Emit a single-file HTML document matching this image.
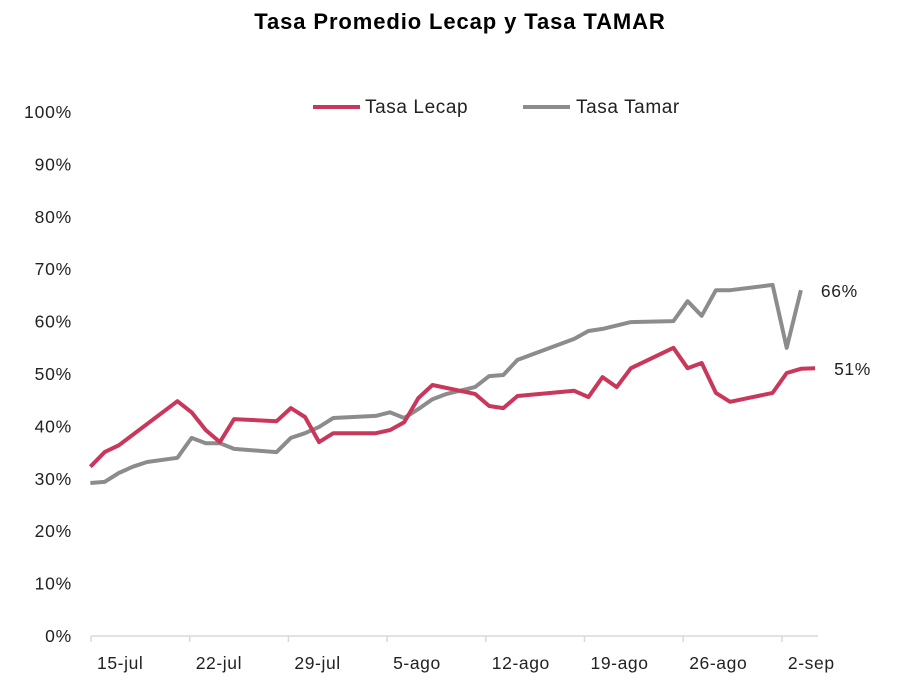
<!DOCTYPE html>
<html><head><meta charset="utf-8"><style>
html,body{margin:0;padding:0;background:#fff;}
svg{display:block;font-family:"Liberation Sans",sans-serif;}
</style></head><body>
<svg id="chart" width="915" height="694">
<text x="460" y="29" text-anchor="middle" font-size="22" font-weight="bold" letter-spacing="0.9" fill="#000">Tasa Promedio Lecap y Tasa TAMAR</text>
<g>
<g><line x1="313" y1="107" x2="360" y2="107" stroke="#c9375b" stroke-width="4"/><text x="365" y="113" font-size="19" letter-spacing="0.6" fill="#222">Tasa Lecap</text></g>
<g><line x1="523" y1="107" x2="570" y2="107" stroke="#8c8c8c" stroke-width="4"/><text x="576" y="113" font-size="19" letter-spacing="0.6" fill="#222">Tasa Tamar</text></g>
</g>
<g id="yaxis"></g>
<g id="xaxis"></g>
<g id="series"></g>
</svg>
<script>
const yTicks=[0,10,20,30,40,50,60,70,80,90,100];
const xTickLabels=["15-jul","22-jul","29-jul","5-ago","12-ago","19-ago","26-ago","2-sep"];
const lecapDays=[0,1,2,6,7,8,9,10,13,14,15,16,17,20,21,22,23,24,27,28,29,30,34,35,36,37,38,41,42,43,44,45,48,49,50,51];
const lecapValues=[32.3,35.1,36.4,44.8,42.7,39.3,37.0,41.4,41.0,43.5,41.8,37.0,38.7,38.7,39.3,40.8,45.4,47.9,46.2,43.9,43.5,45.8,46.8,45.6,49.4,47.5,51.1,55.0,51.1,52.1,46.4,44.7,46.4,50.2,51.0,51.1];
const tamarDays=[0,1,2,3,4,6,7,8,9,10,13,14,15,16,17,20,21,22,23,24,25,27,28,29,30,34,35,36,38,41,42,43,44,45,48,49,50];
const tamarValues=[29.2,29.4,31.1,32.3,33.2,34.0,37.8,36.8,36.8,35.7,35.1,37.8,38.7,39.9,41.6,42.0,42.7,41.6,43.3,45.2,46.2,47.5,49.6,49.8,52.7,56.7,58.2,58.6,59.9,60.1,63.9,61.1,66.0,66.0,67.0,55.0,66.0];
const NS="http://www.w3.org/2000/svg";
const X0=91,X1=818,Y0=636,Y100=112;
const xS=d=>X0+(d+0.1)*14.17-(d<5?2:0);
const yS=v=>Y0-(v/100)*(Y0-Y100);
function mk(t,a,p){const e=document.createElementNS(NS,t);for(const k in a)e.setAttribute(k,a[k]);p.appendChild(e);return e;}
const ya=document.getElementById('yaxis');
yTicks.forEach(v=>{const t=mk('text',{x:72,y:yS(v)+6,'text-anchor':'end','font-size':17.5,'letter-spacing':0.8,fill:'#222'},ya);t.textContent=v+'%';

});
const xa=document.getElementById('xaxis');
const ax=mk('line',{x1:X0,y1:Y0,x2:X1,y2:Y0,stroke:'#d9d9d9','stroke-width':1.5},xa);


xTickLabels.forEach((l,i)=>{const x=X0+i*98.7;
const tk=mk('line',{x1:x,y1:Y0,x2:x,y2:Y0+6,stroke:'#d9d9d9','stroke-width':1.5},xa);


const t=mk('text',{x:x+6,y:669,'font-size':17.5,'letter-spacing':0.6,fill:'#222'},xa);t.textContent=l;

});
const sg=document.getElementById('series');
function line(days,vals,col,name){const pts=days.map((d,i)=>xS(d).toFixed(1)+','+yS(vals[i]).toFixed(1)).join(' ');
const p=mk('polyline',{points:pts,fill:'none',stroke:col,'stroke-width':4,'stroke-linejoin':'round'},sg);

}
line(tamarDays,tamarValues,'#8c8c8c','tamar-line');
line(lecapDays,lecapValues,'#c9375b','lecap-line');
const lt=tamarValues[tamarValues.length-1],ll=lecapValues[lecapValues.length-1];
const t1=mk('text',{x:xS(tamarDays[tamarDays.length-1])+20,y:yS(lt)+7,'font-size':17.5,'letter-spacing':0.6,fill:'#222'},sg);t1.textContent=Math.round(lt)+'%';


const t2=mk('text',{x:xS(lecapDays[lecapDays.length-1])+19,y:yS(ll)+7,'font-size':17.5,'letter-spacing':0.6,fill:'#222'},sg);t2.textContent=Math.round(ll)+'%';


</script>
</body></html>
